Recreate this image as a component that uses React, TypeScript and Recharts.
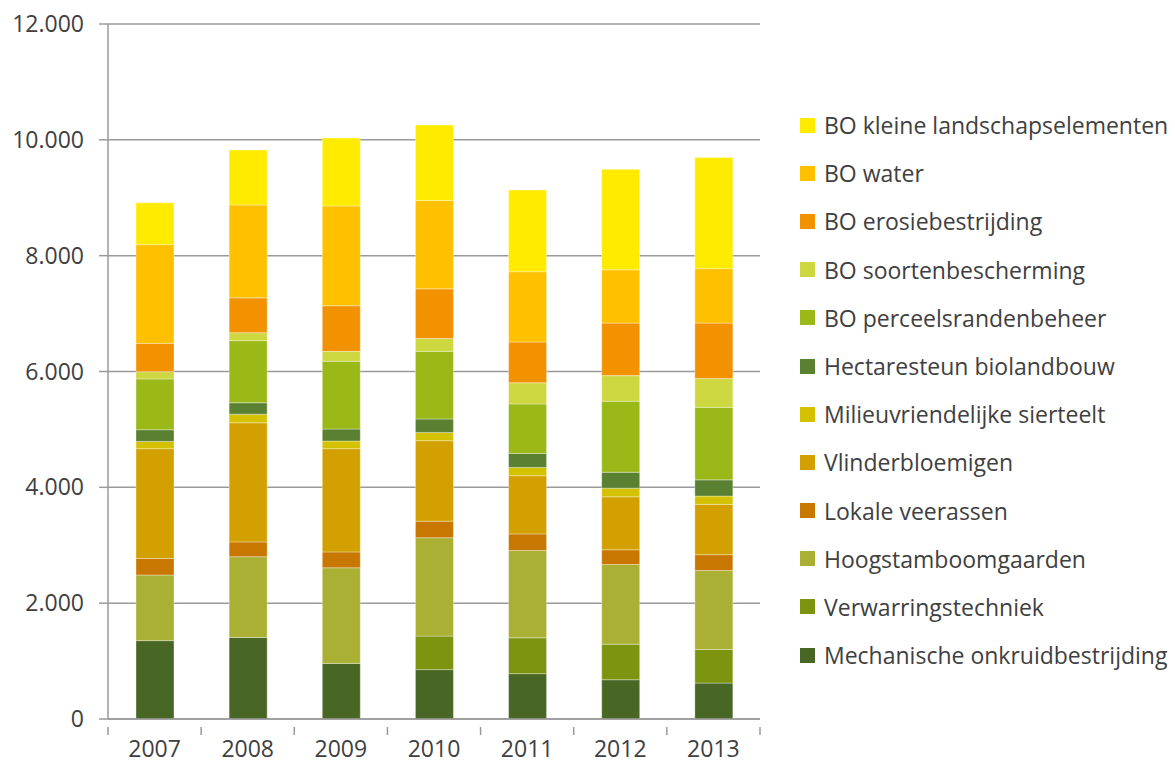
import { BarChart, Bar, CartesianGrid, XAxis, YAxis, Legend } from 'recharts'

const years = ['2007', '2008', '2009', '2010', '2011', '2012', '2013']

// stapelvolgorde: onderaan eerst
const mechanisch = [1353, 1407, 960, 852, 783, 678, 620]
const verwarring = [0, 0, 0, 579, 619, 614, 580]
const hoogstam = [1133, 1395, 1651, 1699, 1507, 1376, 1364]
const lokale = [286, 256, 274, 286, 287, 254, 274]
const vlinder = [1895, 2057, 1782, 1389, 1005, 914, 867]
const milieu = [126, 149, 132, 143, 143, 150, 144]
const hectare = [202, 196, 208, 232, 242, 274, 280]
const perceel = [877, 1073, 1169, 1168, 854, 1226, 1252]
const soorten = [125, 137, 172, 221, 365, 443, 496]
const erosie = [489, 602, 787, 858, 705, 907, 959]
const water = [1704, 1604, 1723, 1526, 1213, 920, 939]
const kleine = [722, 948, 1174, 1303, 1409, 1735, 1918]

const yTicks = [0, 2000, 4000, 6000, 8000, 10000, 12000]

const series = [
  { key: 'mech', name: 'Mechanische onkruidbestrijding', values: mechanisch, color: '#486725' },
  { key: 'verw', name: 'Verwarringstechniek', values: verwarring, color: '#7D9410' },
  { key: 'hoog', name: 'Hoogstamboomgaarden', values: hoogstam, color: '#A9B033' },
  { key: 'lok', name: 'Lokale veerassen', values: lokale, color: '#C87800' },
  { key: 'vlin', name: 'Vlinderbloemigen', values: vlinder, color: '#D2A000' },
  { key: 'mil', name: 'Milieuvriendelijke sierteelt', values: milieu, color: '#D4C200' },
  { key: 'hect', name: 'Hectaresteun biolandbouw', values: hectare, color: '#5A8032' },
  { key: 'perc', name: 'BO perceelsrandenbeheer', values: perceel, color: '#9AB818' },
  { key: 'soort', name: 'BO soortenbescherming', values: soorten, color: '#CDD840' },
  { key: 'eros', name: 'BO erosiebestrijding', values: erosie, color: '#F39200' },
  { key: 'wat', name: 'BO water', values: water, color: '#FFC000' },
  { key: 'klein', name: 'BO kleine landschapselementen', values: kleine, color: '#FFEB00' },
]

const data = years.map((year, i) => {
  const row: Record<string, string | number> = { year }
  series.forEach((s) => {
    row[s.key] = s.values[i]
  })
  return row
})

const FONT = '"Open Sans", sans-serif'
const TEXT = '#404040'
const GRID = '#9A9A9A'

const fmt = (v: number) => String(v).replace(/\B(?=(\d{3})+(?!\d))/g, '.')

const PLOT_LEFT = 108
const PLOT_RIGHT = 760
const BAND = (PLOT_RIGHT - PLOT_LEFT) / years.length

const YearTick = ({ x, y, payload, index }: any) => {
  const half = BAND / 2
  return (
    <g>
      <line x1={x - half} y1={y} x2={x - half} y2={y + 8} stroke={GRID} strokeWidth={1.5} />
      {index === years.length - 1 && (
        <line x1={x + half} y1={y} x2={x + half} y2={y + 8} stroke={GRID} strokeWidth={1.5} />
      )}
      <text x={x} y={y + 14} dy="0.71em" textAnchor="middle" fill={TEXT} fontSize={23} fontFamily={FONT}>
        {payload.value}
      </text>
    </g>
  )
}

const LegendList = () => (
  <div style={{ fontFamily: FONT, fontSize: 23, color: TEXT }}>
    {[...series].reverse().map((s) => (
      <div key={s.key} style={{ display: 'flex', alignItems: 'center', height: 48.2, whiteSpace: 'nowrap' }}>
        <span style={{ width: 15, height: 15, background: s.color, marginRight: 9, flex: 'none' }} />
        <span>{s.name}</span>
      </div>
    ))}
  </div>
)

export default function App() {
  return (
    <div style={{ position: 'absolute', left: 0, top: 0, width: 1175, height: 763, background: '#fff' }}>
      <BarChart
        width={1175}
        height={763}
        data={data}
        margin={{ top: 24, right: 1175 - PLOT_RIGHT, left: 0, bottom: 0 }}
        barSize={38}
      >
        <CartesianGrid vertical={false} stroke={GRID} strokeWidth={1.5} />
        <XAxis
          dataKey="year"
          axisLine={{ stroke: GRID, strokeWidth: 1.5 }}
          tickLine={false}
          tick={<YearTick />}
          interval={0}
          height={44}
        />
        <YAxis
          width={PLOT_LEFT}
          domain={[0, 12000]}
          ticks={yTicks}
          tickFormatter={fmt}
          axisLine={{ stroke: GRID, strokeWidth: 1.5 }}
          tickLine={{ stroke: GRID, strokeWidth: 1.5 }}
          tickSize={9}
          tickMargin={15}
          tick={{ fill: TEXT, fontSize: 23, fontFamily: FONT }}
          interval={0}
        />
        <Legend
          layout="horizontal"
          verticalAlign="middle"
          content={<LegendList />}
          wrapperStyle={{ left: 800, top: 101, width: 375, height: 580 }}
        />
        {series.map((s) => (
          <Bar
            key={s.key}
            dataKey={s.key}
            name={s.name}
            stackId="a"
            fill={s.color}
            stroke="#ffffff"
            strokeOpacity={0.45}
            strokeWidth={0.75}
            isAnimationActive={false}
          />
        ))}
      </BarChart>
    </div>
  )
}
